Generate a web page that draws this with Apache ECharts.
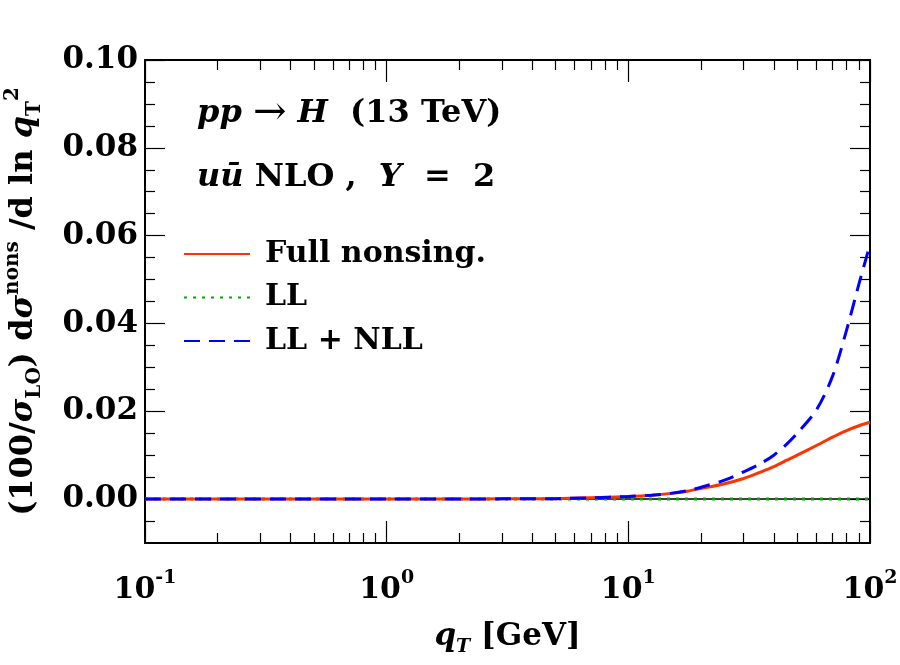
<!DOCTYPE html>
<html lang="en">
<head>
    <meta charset="UTF-8">
    <title>pp to H nonsingular</title>
    <style>
        body{ margin: 0; background: #fff; }
        #chart{ width: 900px; height: 665px; }
    </style>
    <script src="https://cdn.jsdelivr.net/npm/echarts@6/dist/echarts.min.js"></script>
</head>
<body>
<div id="chart"></div>
<script type="text/javascript">
    // qT values (GeV) and the three curves
    var qT = [0.1, 0.2, 0.5, 1, 2, 3, 5, 7, 10, 12.5, 15, 17.5, 20, 25, 30, 35, 40, 45, 50, 60, 70, 80, 90, 100];
    var fullNonsing = [0, 0, 0, 0, 0.00002, 0.00005, 0.0001, 0.0003, 0.0006, 0.0009, 0.0013, 0.0018, 0.0024, 0.0035, 0.0047, 0.0061, 0.0074, 0.0088, 0.0100, 0.0122, 0.0141, 0.0156, 0.0167, 0.0175];
    var llOnly = [0, 0, 0, 0, 0, 0, 0, 0, 0, 0, 0, 0, 0, 0, 0, 0, 0, 0, 0, 0, 0, 0, 0, 0];
    var llNll = [0, 0, 0, 0, 0.00002, 0.00005, 0.0001, 0.0003, 0.0006, 0.0009, 0.0013, 0.0019, 0.0027, 0.0043, 0.0062, 0.0080, 0.0100, 0.0124, 0.0150, 0.0203, 0.0280, 0.0385, 0.0490, 0.0580];

    var xMajorTicks = [0.1, 1, 10, 100];
    var xMinorTicks = [0.2, 0.3, 0.4, 0.5, 0.6, 0.7, 0.8, 0.9, 2, 3, 4, 5, 6, 7, 8, 9, 20, 30, 40, 50, 60, 70, 80, 90];
    var yMajorTicks = [0, 0.02, 0.04, 0.06, 0.08, 0.10];
    var yMinorTicks = [-0.005, 0.005, 0.01, 0.015, 0.025, 0.03, 0.035, 0.045, 0.05, 0.055, 0.065, 0.07, 0.075, 0.085, 0.09, 0.095];

    var serif = 'DejaVu Serif';
    function pairs(ys){
        var out = [];
        for(var i=0;i<qT.length;i++){ out.push([qT[i], ys[i]]); }
        return out;
    }
    function xAxisDef(pos, ticks, len, labels){
        return {
            type: 'log', logBase: 10, min: 0.1, max: 100, position: pos,
            axisLine: {show: false, onZero: false},
            splitLine: {show: false},
            minorTick: {show: false},
            axisTick: {show: true, inside: true, length: len, customValues: ticks,
                lineStyle: {color: '#000', width: 1.2}},
            axisLabel: labels ? {
                show: true, customValues: xMajorTicks, margin: 26,
                fontFamily: serif, fontWeight: 'bold', color: '#000',
                formatter: function(v){
                    return '{b|10}{s|' + Math.round(Math.log10(v)) + '}';
                },
                rich: {
                    b: {fontFamily: serif, fontWeight: 'bold', fontSize: 30, lineHeight: 36, verticalAlign: 'bottom', color: '#000'},
                    s: {fontFamily: serif, fontWeight: 'bold', fontSize: 19, lineHeight: 20, verticalAlign: 'top', color: '#000'}
                }
            } : {show: false}
        };
    }
    function yAxisDef(pos, ticks, len, labels){
        return {
            type: 'value', min: -0.01, max: 0.10, position: pos,
            axisLine: {show: false, onZero: false},
            splitLine: {show: false},
            axisTick: {show: true, inside: true, length: len, customValues: ticks,
                lineStyle: {color: '#000', width: 1.2}},
            axisLabel: labels ? {
                show: true, customValues: yMajorTicks, margin: 7,
                fontFamily: serif, fontWeight: 'bold', fontSize: 31, color: '#000',
                formatter: function(v){ return v.toFixed(2); }
            } : {show: false}
        };
    }

    var xAxes = [
        xAxisDef('bottom', xMajorTicks, 22, true),
        xAxisDef('bottom', xMinorTicks, 10, false),
        xAxisDef('top', xMajorTicks, 22, false),
        xAxisDef('top', xMinorTicks, 10, false)
    ];
    xAxes[0].name = '{i|q}{sub|T}{n| [GeV]}';
    xAxes[0].nameLocation = 'middle';
    xAxes[0].nameGap = 78;
    xAxes[0].nameTextStyle = {
        rich: {
            i: {fontFamily: serif, fontStyle: 'italic', fontWeight: 'bold', fontSize: 31, lineHeight: 36, verticalAlign: 'top', color: '#000'},
            sub: {fontFamily: serif, fontStyle: 'italic', fontWeight: 'bold', fontSize: 19, lineHeight: 20, verticalAlign: 'bottom', color: '#000'},
            n: {fontFamily: serif, fontWeight: 'bold', fontSize: 31, lineHeight: 36, verticalAlign: 'top', color: '#000'}
        }
    };

    var yAxes = [
        yAxisDef('left', yMajorTicks, 20, true),
        yAxisDef('left', yMinorTicks, 10, false),
        yAxisDef('right', yMajorTicks, 20, false),
        yAxisDef('right', yMinorTicks, 10, false)
    ];
    var ySty = {fontFamily: serif, fontWeight: 'bold', color: '#000'};
    yAxes[0].name = '{n|(100/}{i|σ}{sub|LO}{n|) d}{i|σ}{sup|nons}{n| /d ln }{i|q}{sub|T}{sup|2}';
    yAxes[0].nameLocation = 'middle';
    yAxes[0].nameRotate = 90;
    yAxes[0].nameGap = 100;
    yAxes[0].nameTextStyle = {
        rich: {
            n: Object.assign({fontSize: 32, lineHeight: 42, verticalAlign: 'middle'}, ySty),
            i: Object.assign({fontSize: 32, lineHeight: 42, fontStyle: 'italic', verticalAlign: 'middle'}, ySty),
            sub: Object.assign({fontSize: 20, lineHeight: 20, verticalAlign: 'bottom'}, ySty),
            sup: Object.assign({fontSize: 20, lineHeight: 20, verticalAlign: 'top'}, ySty)
        }
    };

    var txt = {fontFamily: serif, fontWeight: 'bold', fontSize: 32, fill: '#000'};
    var annRich = {
        i: {fontFamily: serif, fontWeight: 'bold', fontStyle: 'italic', fontSize: 32},
        a: {fontFamily: serif, fontWeight: 'normal', fontSize: 40}
    };
    var option = {
        animation: false,
        backgroundColor: '#fff',
        grid: {left: 145, right: 30, top: 60, bottom: 122, show: true, outerBoundsMode: 'none',
            borderColor: '#000', borderWidth: 2, backgroundColor: 'transparent'},
        xAxis: xAxes,
        yAxis: yAxes,
        legend: {
            orient: 'vertical', left: 178, top: 234,
            itemWidth: 66, itemHeight: 14, itemGap: 13.5,
            itemStyle: {opacity: 0},
            textStyle: {fontFamily: serif, fontWeight: 'bold', fontSize: 30, lineHeight: 30,
                color: '#000', padding: [0, 0, 0, 10]},
            data: ['Full nonsing.', 'LL', 'LL + NLL']
        },
        graphic: [
            {type: 'text', left: 197, top: 94, style: Object.assign({
                text: '{i|pp} {a|→} {i|H}  (13 TeV)',
                rich: annRich
            }, txt)},
            {type: 'text', left: 197, top: 162, style: Object.assign({
                text: '{i|uū} NLO ,  {i|Y}  =  2',
                rich: annRich
            }, txt)}
        ],
        series: [
            {
                name: 'LL', type: 'line', data: pairs(llOnly), symbol: 'none', z: 3,
                lineStyle: {color: '#00a800', width: 3, type: [3, 6]},
                itemStyle: {color: '#00a800'},
                markLine: {silent: true, symbol: 'none', label: {show: false}, z: 1,
                    lineStyle: {color: '#000', width: 1.5, type: 'solid'},
                    data: [{yAxis: 0}]}
            },
            {
                name: 'Full nonsing.', type: 'line', data: pairs(fullNonsing), symbol: 'none', z: 4,
                smooth: 0.3,
                lineStyle: {color: '#ff3300', width: 3},
                itemStyle: {color: '#ff3300'}
            },
            {
                name: 'LL + NLL', type: 'line', data: pairs(llNll), symbol: 'none', z: 5,
                smooth: 0.3,
                lineStyle: {color: '#0000ff', width: 3, type: [16, 9]},
                itemStyle: {color: '#0000ff'}
            }
        ]
    };
    var chart = echarts.init(document.getElementById('chart'));
    chart.setOption(option);
</script>
</body>
</html>
